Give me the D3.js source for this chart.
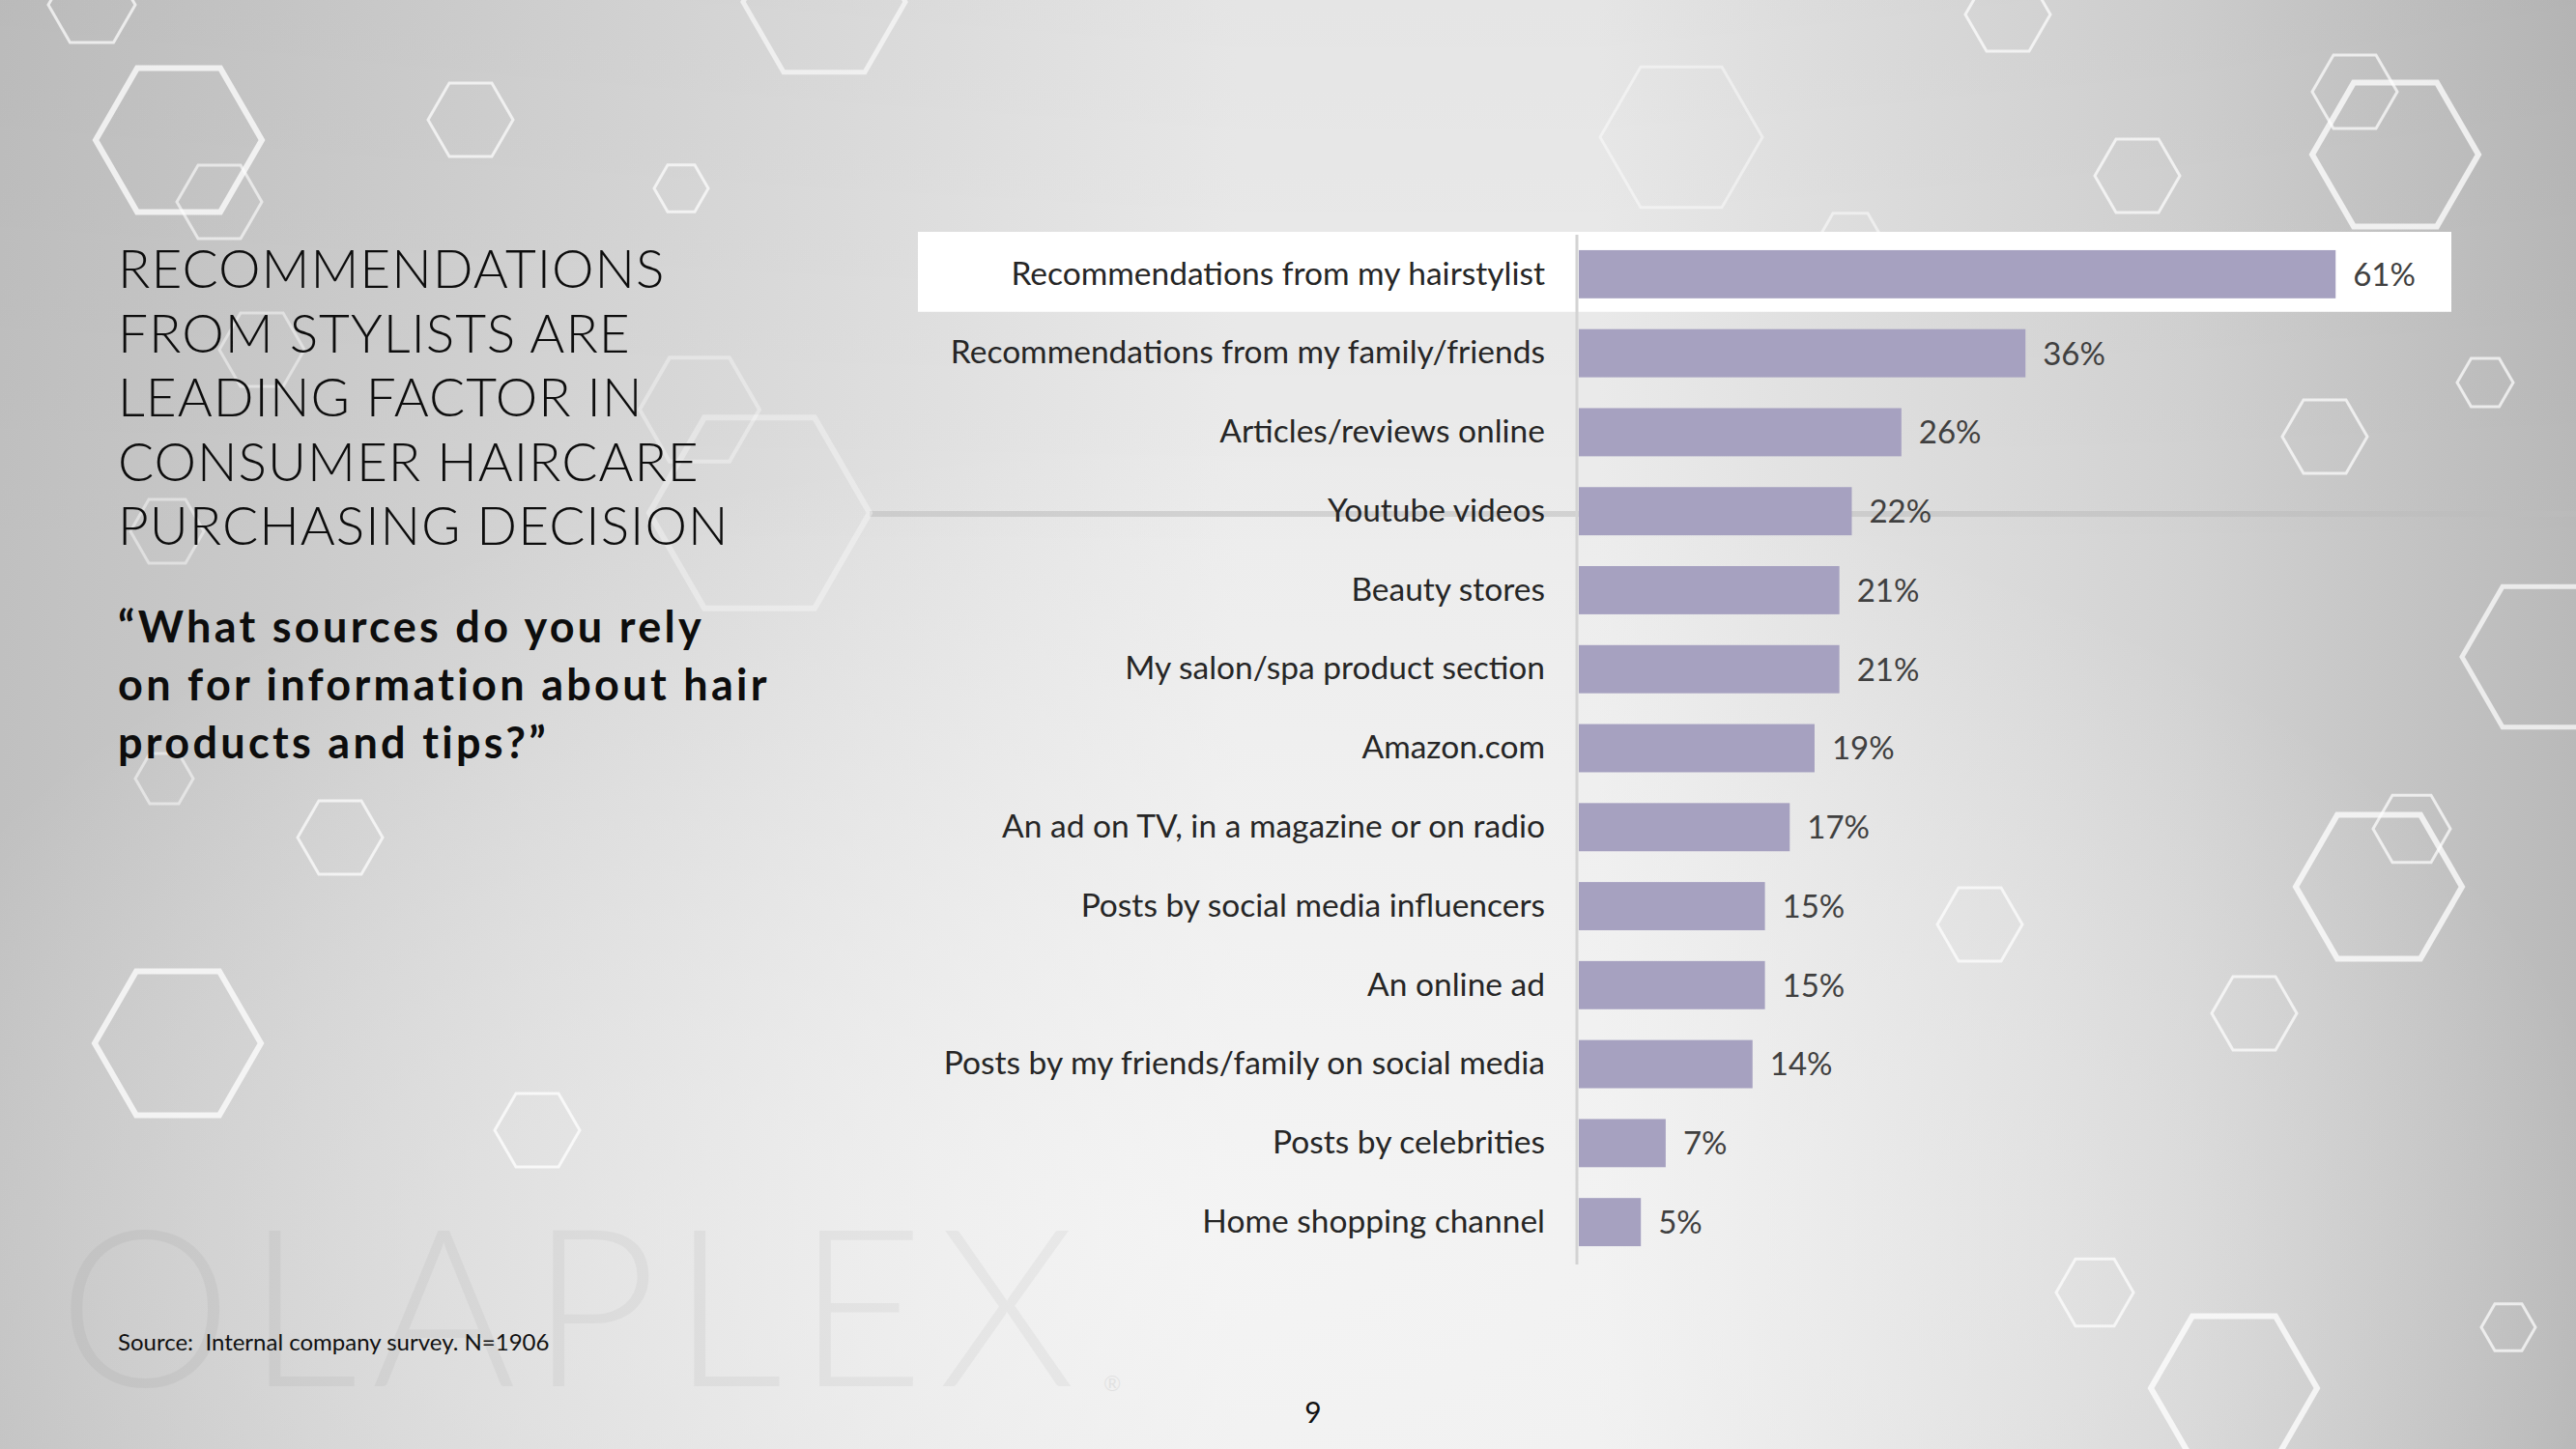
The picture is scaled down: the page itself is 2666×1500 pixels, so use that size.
<!DOCTYPE html>
<html>
<head>
<meta charset="utf-8">
<script src="https://cdn.jsdelivr.net/npm/d3@7"></script>
<style>
  html, body { margin: 0; padding: 0; overflow: hidden; background: #ddd; }
  svg { display: block; }
  text { white-space: pre; }
</style>
</head>
<body>
<svg id="chart" width="2666" height="1500"></svg>
<script>
// ---- Data ----
const categories = [
  "Recommendations from my hairstylist",
  "Recommendations from my family/friends",
  "Articles/reviews online",
  "Youtube videos",
  "Beauty stores",
  "My salon/spa product section",
  "Amazon.com",
  "An ad on TV, in a magazine or on radio",
  "Posts by social media influencers",
  "An online ad",
  "Posts by my friends/family on social media",
  "Posts by celebrities",
  "Home shopping channel"
];
const values = [61, 36, 26, 22, 21, 21, 19, 17, 15, 15, 14, 7, 5];
const highlighted = ["Recommendations from my hairstylist"];

const titleLines = [
  "RECOMMENDATIONS",
  "FROM STYLISTS ARE",
  "LEADING FACTOR IN",
  "CONSUMER HAIRCARE",
  "PURCHASING DECISION"
];
const questionLines = [
  "\u201CWhat sources do you rely",
  "on for information about hair",
  "products and tips?\u201D"
];
const sourceText = "Source:  Internal company survey. N=1906";
const pageNumber = "9";
const watermark = "OLAPLEX";

// decorative hexagons: [cx, cy, radius, strokeWidth, opacity]
const hexes = [
  [95, 5, 45, 3, 0.7], [185, 145, 86, 6, 0.75], [227, 209, 44, 3, 0.6],
  [487, 124, 44, 3, 0.7], [705, 195, 28, 3, 0.7], [853, 2, 84, 5, 0.6],
  [724, 424, 62, 4, 0.35], [786, 531, 114, 6, 0.35], [271, 362, 44, 3, 0.45],
  [173, 550, 38, 3, 0.45], [170, 806, 30, 3, 0.5], [352, 867, 44, 3, 0.7],
  [184, 1080, 86, 6, 0.75], [556, 1170, 44, 3, 0.75],
  [1740, 142, 84, 3, 0.45], [2078, 15, 44, 3, 0.7], [2437, 95, 44, 3, 0.7],
  [2479, 160, 86, 6, 0.75], [2212, 182, 44, 3, 0.7], [2572, 396, 29, 3, 0.7],
  [2406, 452, 44, 3, 0.7], [2632, 680, 84, 5, 0.7], [2496, 858, 40, 3, 0.7],
  [2462, 918, 86, 6, 0.75], [2049, 957, 44, 3, 0.7], [2333, 1049, 44, 3, 0.7],
  [2168, 1338, 40, 3, 0.7], [2596, 1374, 28, 3, 0.7], [2312, 1437, 86, 6, 0.75],
  [1915, 252, 36, 3, 0.5]
];

// ---- Setup ----
const W = 2666, H = 1500;
const svg = d3.select("#chart");
const defs = svg.append("defs");

const lg = defs.append("linearGradient").attr("id", "bg").attr("x1", "0").attr("x2", "1").attr("y1", "0").attr("y2", "0");
[[0, "#c0c0c0"], [0.22, "#d5d5d5"], [0.48, "#ececec"], [0.62, "#ececec"], [0.85, "#d2d2d2"], [1, "#b9b9b9"]]
  .forEach(([o, c]) => lg.append("stop").attr("offset", o).attr("stop-color", c));
const rg = defs.append("radialGradient").attr("id", "glow")
  .attr("cx", "0.47").attr("cy", "0.85").attr("r", "0.55");
rg.append("stop").attr("offset", 0).attr("stop-color", "#f6f6f6").attr("stop-opacity", 0.8);
rg.append("stop").attr("offset", 1).attr("stop-color", "#f6f6f6").attr("stop-opacity", 0);
const vg = defs.append("linearGradient").attr("id", "vshade").attr("x1", "0").attr("x2", "0").attr("y1", "0").attr("y2", "1");
vg.append("stop").attr("offset", 0).attr("stop-color", "#000").attr("stop-opacity", 0.03);
vg.append("stop").attr("offset", 1).attr("stop-color", "#000").attr("stop-opacity", 0);

svg.append("rect").attr("width", W).attr("height", H).attr("fill", "url(#bg)");
svg.append("rect").attr("width", W).attr("height", H).attr("fill", "url(#glow)");
svg.append("rect").attr("width", W).attr("height", H * 0.4).attr("fill", "url(#vshade)");

// decorative line from big hexagon
svg.append("line").attr("x1", 900).attr("x2", W).attr("y1", 532).attr("y2", 532)
  .attr("stroke", "#bdbdbd").attr("stroke-width", 6).attr("opacity", 0.55);

// hexagons
const hexPath = (cx, cy, r) => {
  const pts = d3.range(6).map(i => {
    const a = Math.PI / 3 * i;
    return [cx + r * Math.cos(a), cy + r * Math.sin(a)];
  });
  return "M" + pts.map(p => p.join(",")).join("L") + "Z";
};
svg.append("g").selectAll("path").data(hexes).join("path")
  .attr("d", d => hexPath(d[0], d[1], d[2]))
  .attr("fill", "none").attr("stroke", "#ffffff")
  .attr("stroke-width", d => d[3]).attr("opacity", d => d[4]);

// watermark
svg.append("text").text(watermark)
  .attr("x", 60).attr("y", 1435)
  .attr("textLength", 1053).attr("lengthAdjust", "spacing")
  .attr("font-family", "Lato, 'Open Sans', sans-serif").attr("font-weight", 300)
  .attr("font-size", 228).attr("fill", "#000").attr("opacity", 0.035);
svg.append("text").text("\u00AE").attr("x", 1142).attr("y", 1440)
  .attr("font-family", "Lato, sans-serif").attr("font-size", 22).attr("fill", "#000").attr("opacity", 0.06);

// ---- Title ----
const tg = svg.append("g").attr("font-family", "Lato, 'Open Sans', sans-serif");
tg.selectAll("text.title").data(titleLines).join("text").attr("class", "title")
  .attr("x", 122).attr("y", (d, i) => 298 + i * 66.5)
  .attr("font-size", 55).attr("font-weight", 300).attr("letter-spacing", 1).attr("fill", "#0d0d0d")
  .text(d => d);
tg.selectAll("text.q").data(questionLines).join("text").attr("class", "q")
  .attr("x", 122).attr("y", (d, i) => 665 + i * 60)
  .attr("font-size", 45).attr("font-weight", 700).attr("letter-spacing", 3.3).attr("fill", "#0d0d0d")
  .text(d => d);

svg.append("text").text(sourceText).attr("x", 122).attr("y", 1398)
  .attr("font-family", "Lato, sans-serif").attr("font-size", 24).attr("fill", "#111");
svg.append("text").text(pageNumber).attr("x", 1359).attr("y", 1473).attr("text-anchor", "middle")
  .attr("font-family", "Lato, sans-serif").attr("font-size", 30).attr("fill", "#111");

// ---- Chart ----
const x = d3.scaleLinear().domain([0, 70]).range([1634, 1634 + 70 * 12.84]);
const y = d3.scaleBand().domain(categories).range([243, 1306]).paddingInner(0.39).paddingOuter(0.195);

// highlight box
const step = y.step();
svg.append("g").selectAll("rect").data(highlighted).join("rect")
  .attr("x", 950).attr("width", 2537 - 950)
  .attr("y", d => y(d) + y.bandwidth() / 2 - step / 2 - 3)
  .attr("height", step + 1)
  .attr("fill", "#ffffff");

svg.append("g").selectAll("rect").data(categories).join("rect")
  .attr("x", x(0))
  .attr("y", d => y(d))
  .attr("width", (d, i) => x(values[i]) - x(0))
  .attr("height", y.bandwidth())
  .attr("fill", "#a6a1c0");

svg.append("g").selectAll("text").data(categories).join("text")
  .attr("x", (d, i) => x(values[i]) + 18)
  .attr("y", d => y(d) + y.bandwidth() / 2)
  .attr("dy", "0.36em")
  .attr("font-family", "Lato, 'Open Sans', sans-serif")
  .attr("font-size", 33).attr("fill", "#404040")
  .text((d, i) => values[i] + "%");

const axis = svg.append("g").attr("transform", `translate(${x(0) - 2},0)`)
  .call(d3.axisLeft(y).tickSize(0).tickPadding(33));
axis.select(".domain").attr("stroke", "#d3d3d3").attr("stroke-width", 3)
  .attr("d", `M0,243V1309`);
axis.selectAll(".tick text")
  .attr("font-family", "Lato, 'Open Sans', sans-serif")
  .attr("font-size", 33.5).attr("fill", "#262626");
</script>
</body>
</html>
